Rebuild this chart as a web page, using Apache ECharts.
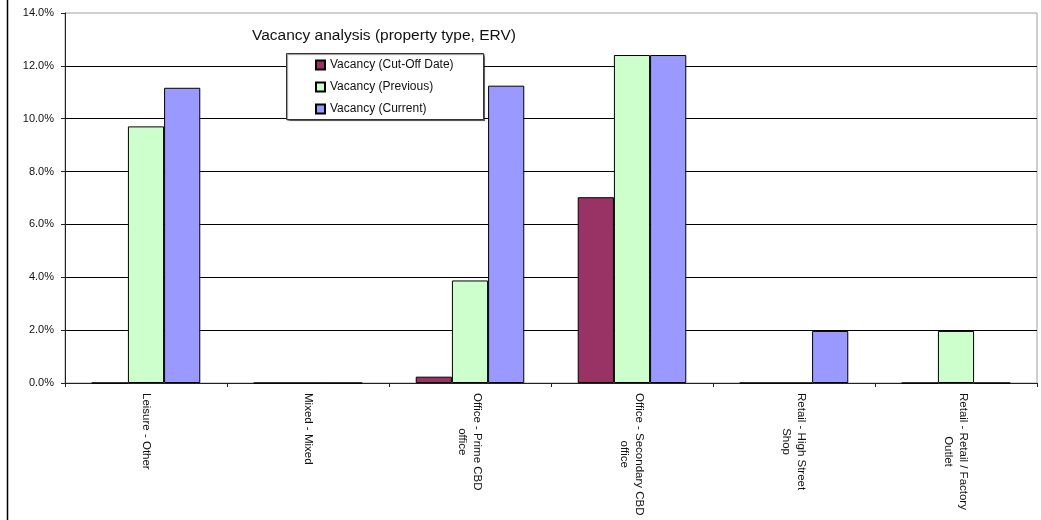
<!DOCTYPE html>
<html>
<head>
<meta charset="utf-8">
<script src="https://cdn.jsdelivr.net/npm/echarts@6/dist/echarts.min.js"></script>
<style>
  html, body { margin: 0; padding: 0; background: #fff; }
  #chart { width: 1041px; height: 520px; }
</style>
</head>
<body>
<div id="chart"></div>
<script>
// Property types on the category axis (line breaks are drawn as wrapped labels)
const categories = [
  'Leisure - Other',
  'Mixed - Mixed',
  'Office - Prime CBD\noffice',
  'Office - Secondary CBD\noffice',
  'Retail - High Street\nShop',
  'Retail - Retail / Factory\nOutlet'
];
const seriesNames = ['Vacancy (Cut-Off Date)', 'Vacancy (Previous)', 'Vacancy (Current)'];

// Vacancy by ERV, in percent
const vacancyCutOff   = [0, 0, 0.24, 7.03, 0, 0];
const vacancyPrevious = [9.71, 0, 3.88, 12.41, 0, 1.97];
const vacancyCurrent  = [11.17, 0, 11.25, 12.41, 1.97, 0];

// Value axis range (percent)
const yMin = 0, yMax = 14, yStep = 2;

const FONT = 'Liberation Sans, Arial, sans-serif';
const colors = ['#993366', '#CCFFCC', '#9999FF'];

const chart = echarts.init(document.getElementById('chart'), null, { renderer: 'canvas' });

function barSeries(name, data, color) {
  return {
    name: name,
    type: 'bar',
    data: data,
    barGap: '0%',
    barCategoryGap: '33%',
    itemStyle: { color: color, borderColor: '#000', borderWidth: 1 },
    emphasis: { disabled: true },
    z: 3
  };
}

chart.setOption({
  animation: false,
  backgroundColor: '#fff',
  color: colors,
  title: {
    text: 'Vacancy analysis (property type, ERV)',
    left: 252,
    top: 28,
    padding: 0,
    textStyle: { fontFamily: FONT, fontSize: 15.5, fontWeight: 'normal', color: '#111' }
  },
  grid: {
    left: 65, right: 4, top: 13, bottom: 137,
    show: true,
    borderColor: '#a0a0a0',
    borderWidth: 1,
    backgroundColor: 'transparent'
  },
  legend: {
    data: seriesNames,
    orient: 'vertical',
    left: 315,
    top: 58,
    padding: 0,
    itemGap: 8,
    itemWidth: 9,
    itemHeight: 9,
    icon: 'rect',
    selectedMode: false,
    z: 8,
    textStyle: { fontFamily: FONT, fontSize: 12, color: '#111', lineHeight: 14 }
  },
  xAxis: {
    type: 'category',
    data: categories,
    axisLine: { show: true, lineStyle: { color: '#222', width: 1 } },
    axisTick: { show: true, length: 4, lineStyle: { color: '#222' } },
    axisLabel: {
      rotate: -90,
      margin: 10,
      interval: 0,
      fontFamily: FONT,
      fontSize: 11.5,
      color: '#111',
      lineHeight: 15,
      formatter: function (v) {
        return v.split('\n').map(function (s) { return '{c|' + s + '}'; }).join('\n');
      },
      rich: {
        c: { align: 'center', fontFamily: FONT, fontSize: 11.5, color: '#111', lineHeight: 15 }
      }
    },
    splitLine: { show: false }
  },
  yAxis: {
    type: 'value',
    min: yMin,
    max: yMax,
    interval: yStep,
    axisLine: { show: true, lineStyle: { color: '#222', width: 1 } },
    axisTick: { show: true, length: 4, lineStyle: { color: '#222' } },
    axisLabel: {
      margin: 11,
      fontFamily: FONT,
      fontSize: 11,
      color: '#111',
      formatter: function (v) { return v.toFixed(1) + '%'; }
    },
    splitLine: { show: true, showMaxLine: false, lineStyle: { color: '#000', width: 1 } }
  },
  graphic: [
    {
      // outer chart frame, left edge
      type: 'line',
      shape: { x1: 7.5, y1: 0, x2: 7.5, y2: 520 },
      style: { stroke: '#000', lineWidth: 1.5 },
      z: 10
    },
    {
      // legend box
      type: 'rect',
      shape: { x: 286.5, y: 53.5, width: 197, height: 66 },
      style: {
        fill: '#fff',
        stroke: '#333',
        lineWidth: 1,
        shadowColor: 'rgba(0,0,0,0.45)',
        shadowOffsetX: 1,
        shadowOffsetY: 1,
        shadowBlur: 1
      },
      z: 6
    }
  ],
  series: [
    barSeries(seriesNames[0], vacancyCutOff, colors[0]),
    barSeries(seriesNames[1], vacancyPrevious, colors[1]),
    barSeries(seriesNames[2], vacancyCurrent, colors[2])
  ]
});
</script>
</body>
</html>
